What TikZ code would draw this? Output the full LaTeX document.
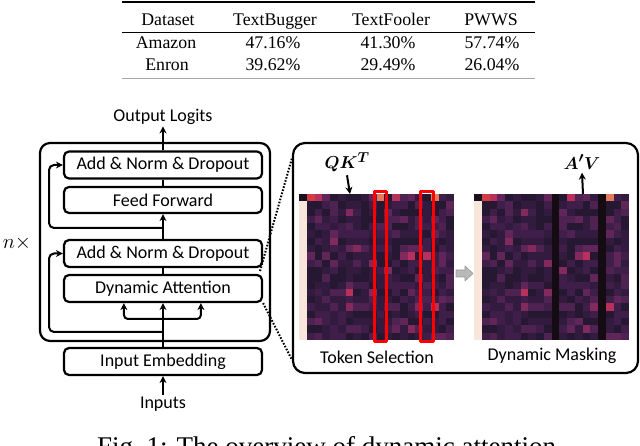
\documentclass[tikz,border=0pt]{standalone}
\usepackage{fontspec}
\usepackage{amsmath}
\setmainfont{Liberation Serif}
\newfontfamily\carl{Carlito}
\usetikzlibrary{arrows.meta,calc}
\definecolor{hm0}{HTML}{261732}
\definecolor{hm1}{HTML}{321B3F}
\definecolor{hm2}{HTML}{3F1F49}
\definecolor{hm3}{HTML}{4E2352}
\definecolor{hm4}{HTML}{612659}
\definecolor{hm5}{HTML}{82295D}
\definecolor{hm6}{HTML}{B8315C}
\definecolor{hm7}{HTML}{E0604C}
\definecolor{hmred}{HTML}{D23C46}
\definecolor{hmor}{HTML}{E47A5C}
\definecolor{hmdark}{HTML}{1A0F1F}
\definecolor{hmcream}{HTML}{F7E6D9}
\definecolor{hmblack}{HTML}{140C12}
\newcommand\drawheat[2]{%
 \foreach \i in {0,...,19}{%
  \foreach \j in {0,...,19}{%
   \pgfmathsetmacro\hmv{frac(abs(sin(\i*127.1+\j*311.7)*437.5453))}%
   \pgfmathtruncatemacro\hmk{(\hmv>0.28)+(\hmv>0.55)+(\hmv>0.75)+(\hmv>0.88)+(\hmv>0.95)+(\hmv>0.985)+(\hmv>0.996)}%
   \def\hmc{hm\hmk}%
   \ifnum\j=0 \ifnum\i=1 \def\hmc{hmred}\fi \ifnum\i=10 \def\hmc{hmor}\fi \ifnum\i=17 \def\hmc{hmor}\fi\fi
   \ifnum\i=0 \ifnum\j=0 \def\hmc{hmdark}\else \def\hmc{hmcream}\fi\fi
   \ifnum#2=1 \ifnum\i=10 \def\hmc{hmblack}\fi \ifnum\i=16 \def\hmc{hmblack}\fi\fi
   \fill[\hmc] ({#1+\i*7.75},{194+\j*7.3}) rectangle ++(7.8,7.35);
  }}}
\begin{document}
\begin{tikzpicture}[x=1pt,y=-1pt,line join=round,
  blk/.style={draw,line width=2.2pt,rounded corners=5pt,minimum width=198pt,minimum height=27pt,inner sep=0pt,font=\carl\fontsize{18}{20}\selectfont},
  lbl/.style={font=\carl\fontsize{18}{20}\selectfont,inner sep=1.5pt},
  conn/.style={line width=2pt},
  arr/.style={line width=2pt,-{Stealth[length=7pt,width=7pt]}},
  tab/.style={font=\fontsize{17.8}{20}\selectfont,anchor=base,inner sep=0pt},
  dots/.style={line width=2pt,dash pattern=on 1.6pt off 1.6pt}]
\useasboundingbox (0,0) rectangle (640,446);
\clip (0,0) rectangle (640,446);
\fill[white] (0,0) rectangle (640,446);
% table
\draw[line width=1.3pt] (122,2) -- (535,2);
\draw[line width=0.7pt] (122,32.5) -- (535,32.5);
\draw[line width=0.8pt,black!35] (122,78) -- (535,78);
\node[tab] (h1) at (168,26) {Dataset};
\node[tab] (h2) at (275,26) {TextBugger};
\node[tab] (h3) at (391,26) {TextFooler};
\node[tab] (h4) at (491,26) {PWWS};
\node[tab] (a1) at (166,49) {Amazon};
\node[tab] (a2) at (273,49) {47.16\%};
\node[tab] (a3) at (388,49) {41.30\%};
\node[tab] (a4) at (492,49) {57.74\%};
\node[tab] (e1) at (167,70.5) {Enron};
\node[tab] (e2) at (273,70.5) {39.62\%};
\node[tab] (e3) at (388,70.5) {29.49\%};
\node[tab] (e4) at (492,70.5) {26.04\%};
% left block
\node[lbl] (out) at (163,117) {Output Logits};
\node[draw,line width=2.2pt,rounded corners=10pt,minimum width=230pt,minimum height=198pt,inner sep=0pt] (outer) at (155,242) {};
\node[blk] (an1) at (163,165) {Add \& Norm \& Dropout};
\node[blk,minimum height=26pt] (ff) at (163,200) {Feed Forward};
\node[blk] (an2) at (163,253.5) {Add \& Norm \& Dropout};
\node[blk] (da) at (163,288.5) {Dynamic Attention};
\node[blk] (emb) at (163,361.5) {Input Embedding};
\node[lbl] (inp) at (163,404) {Inputs};
\node (nx) at (17,243) {\fontsize{20}{22}\selectfont $n\times$};
\draw[arr] (an1.north) -- (out.south);
\draw[conn] (ff.north) -- (an1.south);
\draw[arr] (an2.north) -- (ff.south);
\draw[conn] (da.north) -- (an2.south);
\draw[arr] (emb.north) -- (da.south);
\draw[arr] (inp.north) -- (emb.south);
\coordinate (r1) at (163,228);
\coordinate (r2) at (163,332);
\coordinate (fk) at (163,319);
\draw[arr,rounded corners=5pt] (r1) -- (49,228) -- (49,165) -- (an1.west);
\draw[arr,rounded corners=5pt] (r2) -- (49,332) -- (49,253.5) -- (an2.west);
\draw[arr,rounded corners=4pt] (fk) -| ($(da.south west)+(61,0)$);
\draw[arr,rounded corners=4pt] (fk) -| ($(da.south west)+(138,0)$);
% right block
\node[draw,line width=2.2pt,rounded corners=12pt,minimum width=345pt,minimum height=230pt,inner sep=0pt] (rbox) at (465.5,258) {};
\coordinate (d1) at (260,271);
\coordinate (d2) at (292,158);
\coordinate (d3) at (292,360);
\draw[dots] (d1) -- (d2);
\draw[dots] (da.south east) -- (d3);
\drawheat{299}{0}
\drawheat{474}{1}
\draw[red,line width=3pt] (374.5,191.5) rectangle (386,342);
\draw[red,line width=3pt] (420.5,191.5) rectangle (433,342);
\fill[gray!55,draw=gray!80,line width=0.6pt] (456,270) -- (465,270) -- (465,266) -- (473,273.5) -- (465,281) -- (465,277) -- (456,277) -- cycle;
\node (qk) at (347,162) {\fontsize{19}{21}\selectfont$\boldsymbol{QK^T}$};
\coordinate (t1) at (350,194);
\draw[arr] (qk.south) -- (t1);
\node (av) at (582,162) {\fontsize{19}{21}\selectfont$\boldsymbol{A'V}$};
\coordinate (t2) at (583,194);
\draw[arr] (t2) -- (av.south);
\node[lbl] (ts) at (377,357) {Token Selection};
\node[lbl] (dm) at (552,356) {Dynamic Masking};
% caption (cut off at the bottom edge, as in the reference)
\node[anchor=base west,inner sep=0pt,font=\fontsize{27}{30}\selectfont] (cap) at (97,455) {Fig.~1: The overview of dynamic attention.};
\end{tikzpicture}
\end{document}
